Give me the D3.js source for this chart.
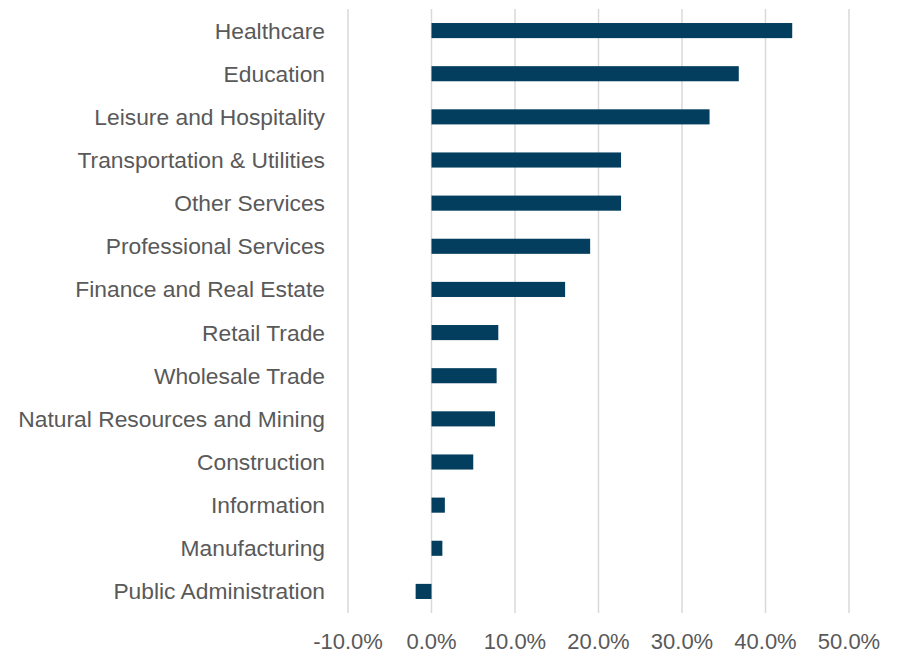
<!DOCTYPE html>
<html>
<head>
<meta charset="utf-8">
<script src="https://cdn.jsdelivr.net/npm/d3@7"></script>
<style>
  html, body { margin: 0; padding: 0; background: #fff; }
  svg text { font-family: "Liberation Sans", Arial, sans-serif; fill: #595959; }
</style>
</head>
<body>
<div id="chart"></div>
<script>
// Industry categories, top to bottom
const categories = [
    "Healthcare", "Education", "Leisure and Hospitality", "Transportation & Utilities",
    "Other Services", "Professional Services", "Finance and Real Estate", "Retail Trade",
    "Wholesale Trade", "Natural Resources and Mining", "Construction", "Information",
    "Manufacturing", "Public Administration"
];

// Percent change values
const values = [43.2, 36.8, 33.3, 22.7, 22.7, 19.0, 16.0, 8.0, 7.8, 7.6, 5.0, 1.6, 1.3, -1.9];

// Axis ticks
const tickValues = [-10, 0, 10, 20, 30, 40, 50];

const svgWidth = 899;
const svgHeight = 653;
const margin = { top: 9, right: 50, bottom: 40, left: 348 };

const svg = d3.select("#chart")
    .append("svg")
    .attr("width", svgWidth)
    .attr("height", svgHeight);

const x = d3.scaleLinear()
    .domain([-10, 50])
    .range([margin.left, 849]);

const y = d3.scaleBand()
    .domain(categories)
    .range([margin.top, 613])
    .paddingInner(0.65)
    .paddingOuter(0.325);

// Vertical gridlines
svg.append("g")
    .selectAll("line")
    .data(tickValues)
    .join("line")
    .attr("x1", d => x(d))
    .attr("x2", d => x(d))
    .attr("y1", margin.top)
    .attr("y2", 613)
    .attr("stroke", "#d9d9d9")
    .attr("stroke-width", 1.5);

// Bars
svg.append("g")
    .selectAll("rect")
    .data(values)
    .join("rect")
    .attr("x", d => x(Math.min(0, d)))
    .attr("y", (d, i) => y(categories[i]))
    .attr("width", d => Math.abs(x(d) - x(0)))
    .attr("height", y.bandwidth())
    .attr("fill", "#043e5e");

// Category labels
svg.append("g")
    .selectAll("text")
    .data(categories)
    .join("text")
    .attr("x", 325)
    .attr("y", d => y(d) + y.bandwidth() / 2)
    .attr("dy", "0.35em")
    .attr("text-anchor", "end")
    .style("font-size", "22.8px")
    .text(d => d);

// Tick labels (plain hyphen for negatives)
svg.append("g")
    .selectAll("text")
    .data(tickValues)
    .join("text")
    .attr("x", d => x(d))
    .attr("y", 641)
    .attr("dy", "0.35em")
    .attr("text-anchor", "middle")
    .style("font-size", "22px")
    .text(d => d.toFixed(1) + "%");
</script>
</body>
</html>
